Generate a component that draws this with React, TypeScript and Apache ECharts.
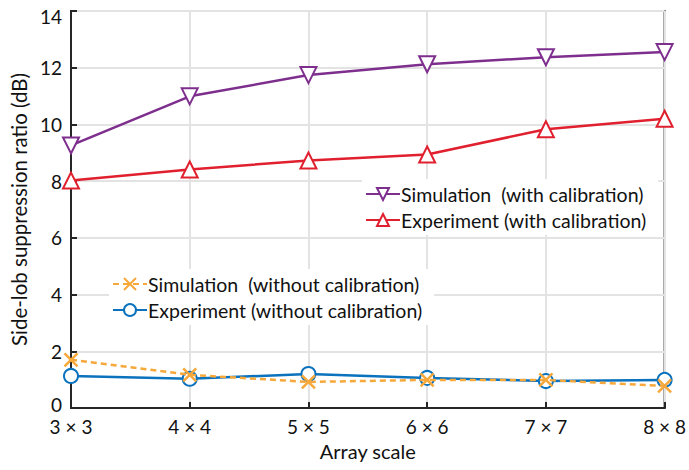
import React, { useEffect, useRef } from "react";
import * as echarts from "echarts";

const categories = ["3 × 3", "4 × 4", "5 × 5", "6 × 6", "7 × 7", "8 × 8"];
const simWithCal = [9.26, 10.99, 11.74, 12.12, 12.37, 12.55];
const expWithCal = [8.02, 8.41, 8.73, 8.94, 9.83, 10.2];
const simWithoutCal = [1.7, 1.17, 0.92, 0.99, 0.99, 0.78];
const expWithoutCal = [1.13, 1.03, 1.2, 1.06, 0.95, 0.99];

const names = [
  "Simulation  (with calibration)",
  "Experiment (with calibration)",
  "Simulation  (without calibration)",
  "Experiment (without calibration)",
];

const FONT = "Lato";
const PURPLE = "#7E2F8E";
const RED = "#E0202E";
const ORANGE = "#F7A83A";
const BLUE = "#0B72BD";
const AXIS = "#262626";

export default function App() {
  const ref = useRef<HTMLDivElement>(null);
  useEffect(() => {
    const chart = echarts.init(ref.current!, null, { renderer: "svg" });
    const legendCommon = {
      orient: "vertical" as const,
      backgroundColor: "#ffffff",
      itemWidth: 34,
      itemHeight: 15,
      itemGap: 6,
      padding: [5, 12, 5, 3],
      textStyle: { fontFamily: FONT, fontSize: 19.5, color: "#111", padding: [0, 0, 0, -4] },
    };
    chart.setOption({
      animation: false,
      textStyle: { fontFamily: FONT },
      grid: {
        left: 71,
        top: 11,
        right: 19,
        bottom: 62,
        show: true,
        borderColor: AXIS,
        borderWidth: 2,
        backgroundColor: "transparent",
      },
      legend: [
        { ...legendCommon, data: [names[0], names[1]], left: 362, top: 179 },
        { ...legendCommon, data: [names[2], names[3]], left: 109, top: 269 },
      ],
      xAxis: {
        type: "category",
        data: categories,
        boundaryGap: false,
        name: "Array scale",
        nameLocation: "middle",
        nameGap: 30,
        nameTextStyle: { fontFamily: FONT, fontSize: 20, color: "#111" },
        axisLine: { lineStyle: { color: AXIS, width: 2 } },
        axisTick: { inside: true, length: 6, lineStyle: { color: AXIS, width: 2 } },
        axisLabel: { fontFamily: FONT, fontSize: 19, color: "#111", margin: 9 },
        splitLine: { show: true, lineStyle: { color: "#e3e3e3", width: 2 } },
      },
      yAxis: {
        type: "value",
        min: 0,
        max: 14,
        interval: 2,
        name: "Side-lob suppression ratio (dB)",
        nameLocation: "middle",
        nameGap: 38,
        nameTextStyle: { fontFamily: FONT, fontSize: 20.5, color: "#111" },
        axisLine: { show: true, lineStyle: { color: AXIS, width: 2 } },
        axisTick: { show: true, inside: true, length: 6, lineStyle: { color: AXIS, width: 2 } },
        axisLabel: {
          fontFamily: FONT,
          fontSize: 19,
          color: "#111",
          margin: 9,
          formatter: (v: number) => (v === 0 ? "{b|0}" : v === 14 ? "{t|14}" : String(v)),
          rich: {
            b: { fontFamily: FONT, fontSize: 19, color: "#111", padding: [0, 0, 8, 0] },
            t: { fontFamily: FONT, fontSize: 19, color: "#111", padding: [10, 0, 0, 0] },
          },
        },
        splitLine: { show: true, lineStyle: { color: "#e3e3e3", width: 2 } },
      },
      series: [
        {
          name: names[0],
          type: "line",
          data: simWithCal,
          symbol: "emptyTriangle",
          symbolRotate: 180,
          symbolSize: 16,
          lineStyle: { color: PURPLE, width: 2.5 },
          itemStyle: { color: PURPLE, borderColor: PURPLE, borderWidth: 2.2 },
          z: 5,
        },
        {
          name: names[1],
          type: "line",
          data: expWithCal,
          symbol: "emptyTriangle",
          symbolSize: 16,
          lineStyle: { color: RED, width: 2.5 },
          itemStyle: { color: RED, borderColor: RED, borderWidth: 2.2 },
          z: 5,
        },
        {
          name: names[2],
          type: "line",
          data: simWithoutCal,
          symbol: "path://M0,0L10,10M10,0L0,10",
          symbolSize: 13,
          lineStyle: { color: ORANGE, width: 2.5, type: [6, 4] },
          itemStyle: { color: ORANGE, borderColor: ORANGE, borderWidth: 2.5 },
          z: 4,
        },
        {
          name: names[3],
          type: "line",
          data: expWithoutCal,
          symbol: "emptyCircle",
          symbolSize: 14,
          lineStyle: { color: BLUE, width: 2.5 },
          itemStyle: { color: BLUE, borderColor: BLUE, borderWidth: 2.2 },
          z: 3,
        },
      ],
    });
    return () => chart.dispose();
  }, []);
  return <div ref={ref} style={{ width: 689, height: 470, position: "absolute", left: 0, top: 0 }} />;
}
